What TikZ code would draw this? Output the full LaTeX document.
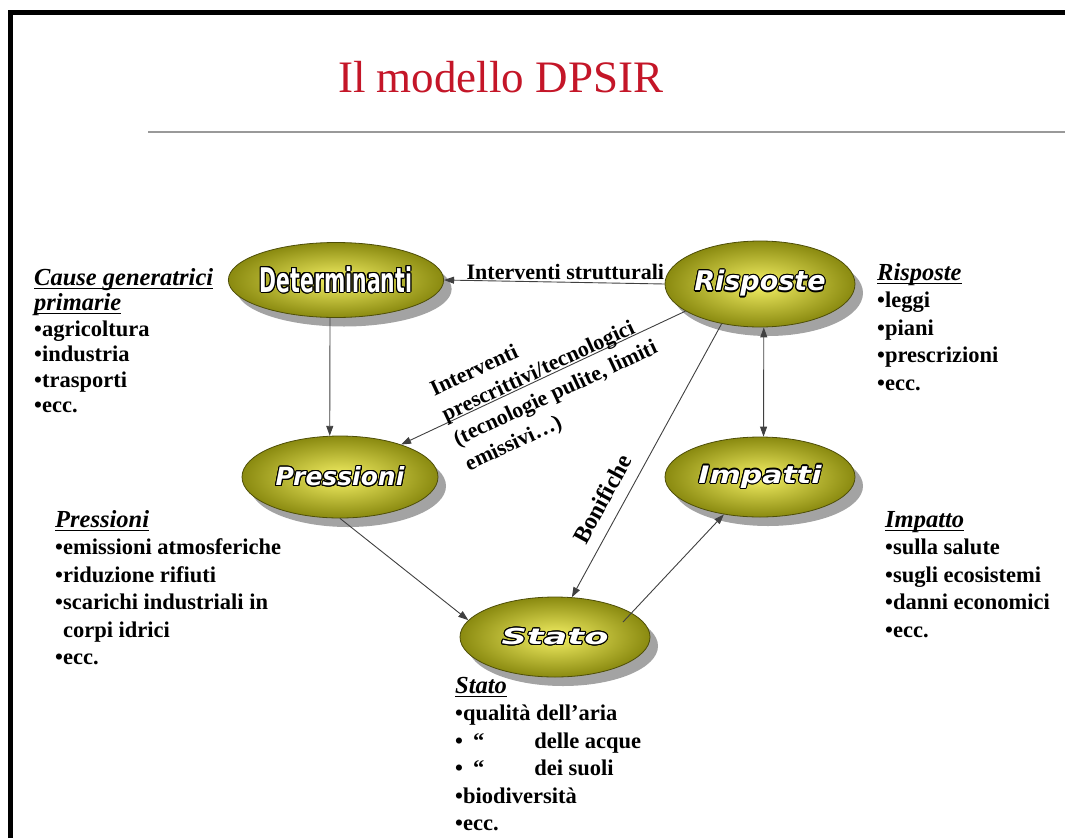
\documentclass[tikz,border=0pt]{standalone}
\usepackage{fontspec}
\setmainfont{Liberation Serif}
\usepackage{contour}
\contourlength{1.1pt}
\usetikzlibrary{arrows.meta,shapes.geometric,shadows}

\newfontfamily\ovalfont{DejaVu Sans}
\newfontfamily\ovalnarrow[FakeStretch=0.6]{DejaVu Sans}
\newfontfamily\ovalwide[FakeStretch=1.25]{DejaVu Sans}
\newfontfamily\ovalwider[FakeStretch=1.6]{DejaVu Sans}

\definecolor{titlered}{RGB}{196,22,40}
\definecolor{ovalin}{RGB}{244,240,100}
\definecolor{ovalout}{RGB}{138,138,16}
\definecolor{ovalrim}{RGB}{78,78,8}

\newcommand\sidehead[1]{\setbox0\hbox{\fontsize{24.5}{24.5}\selectfont\itshape #1}\rlap{\rule[-3.5pt]{\wd0}{1.2pt}}\box0}

\begin{document}
\begin{tikzpicture}[x=1pt,y=-1pt,
	oval/.style={ellipse, draw=ovalrim, line width=0.8pt, inner color=ovalin, outer color=ovalout,
		drop shadow={shadow xshift=8pt, shadow yshift=-9pt, fill=black!45, opacity=0.8}, text=white, inner sep=0pt},
	arr/.style={-{Triangle[length=10pt, width=7pt]}, draw=black!75, line width=0.9pt},
	dblarr/.style={{Triangle[length=10pt, width=7pt]}-{Triangle[length=10pt, width=7pt]}, draw=black!75, line width=0.9pt},
	side/.style={anchor=north west, align=left, inner sep=0pt, font=\fontsize{22.5}{27.5}\selectfont\bfseries},
	lbl/.style={font=\fontsize{22}{27.5}\selectfont\bfseries, inner sep=2pt}]
			\useasboundingbox (0,0) rectangle (1065,838);
			\draw[line width=5pt] (10.8,838) -- (10.8,12.5) -- (1065,12.5);
			\node[font=\fontsize{45}{45}\selectfont, text=titlered, anchor=base west, inner sep=0pt] (title) at (338,92) {Il modello DPSIR};
			\draw[gray!80, line width=2pt] (148,132) -- (1065,132);
			
			\node[oval, minimum width=186pt, minimum height=75pt] (determinanti) at (336,280) {\ovalnarrow\bfseries\fontsize{34}{34}\selectfont\contour{black}{Determinanti}};
			\node[oval, minimum width=190pt, minimum height=86pt] (risposte) at (760,284) {\ovalfont\bfseries\itshape\fontsize{27}{27}\selectfont\contour{black}{Risposte}};
			\node[oval, minimum width=196pt, minimum height=82pt] (pressioni) at (340,477) {\ovalfont\bfseries\itshape\fontsize{25}{25}\selectfont\contour{black}{Pressioni}};
			\node[oval, minimum width=190pt, minimum height=80pt] (impatti) at (760,477) {\ovalwide\bfseries\itshape\fontsize{24}{24}\selectfont\contour{black}{Impatti}};
			\node[oval, minimum width=190pt, minimum height=80pt] (stato) at (555,637) {\ovalwider\bfseries\itshape\fontsize{22}{22}\selectfont\contour{black}{Stato}};
			
			\draw[arr] (risposte.west) -- node[lbl, above, pos=0.45] (strutturaliLbl) {Interventi strutturali} (determinanti.east);
			\draw[arr] (determinanti.-99) -- (pressioni.104);
			\draw[arr] (risposte.200) -- (pressioni.28);
			\draw[arr] (risposte.226) -- (stato.67);
			\draw[dblarr] (risposte.-85) -- (impatti.85);
			\draw[arr] (pressioni.south) -- (stato.169);
			\draw[arr] ([xshift=68pt, yshift=15pt]stato.center) -- (impatti.226);
			
			\node[lbl, rotate=25, align=left] (prescrittiviLbl) at (550,382) {Interventi\\prescrittivi/tecnologici\\(tecnologie pulite, limiti\\emissivi…)};
			\node[lbl, rotate=61.5, font=\fontsize{24}{24}\selectfont\bfseries] (bonificheLbl) at (602,499) {Bonifiche};
			
			\node[side, font=\fontsize{22.5}{25.5}\selectfont\bfseries] (causeTxt) at (34,268) {\sidehead{Cause generatrici}\\\sidehead{primarie}\\•agricoltura\\•industria\\•trasporti\\•ecc.};
			\node[side] (pressioniTxt) at (55,510) {\sidehead{Pressioni}\\•emissioni atmosferiche\\•riduzione rifiuti\\•scarichi industriali in\\\hphantom{•}corpi idrici\\•ecc.};
			\node[side] (risposteTxt) at (877,263) {\sidehead{Risposte}\\•leggi\\•piani\\•prescrizioni\\•ecc.};
			\node[side] (impattoTxt) at (885,511) {\sidehead{Impatto}\\•sulla salute\\•sugli ecosistemi\\•danni economici\\•ecc.};
			\node[side] (statoTxt) at (455,677) {\sidehead{Stato}\\•qualità dell’aria\\•\hspace{10pt}“\hspace{50pt}delle acque\\•\hspace{10pt}“\hspace{50pt}dei suoli\\•biodiversità\\•ecc.};
			
		\end{tikzpicture}
\end{document}
